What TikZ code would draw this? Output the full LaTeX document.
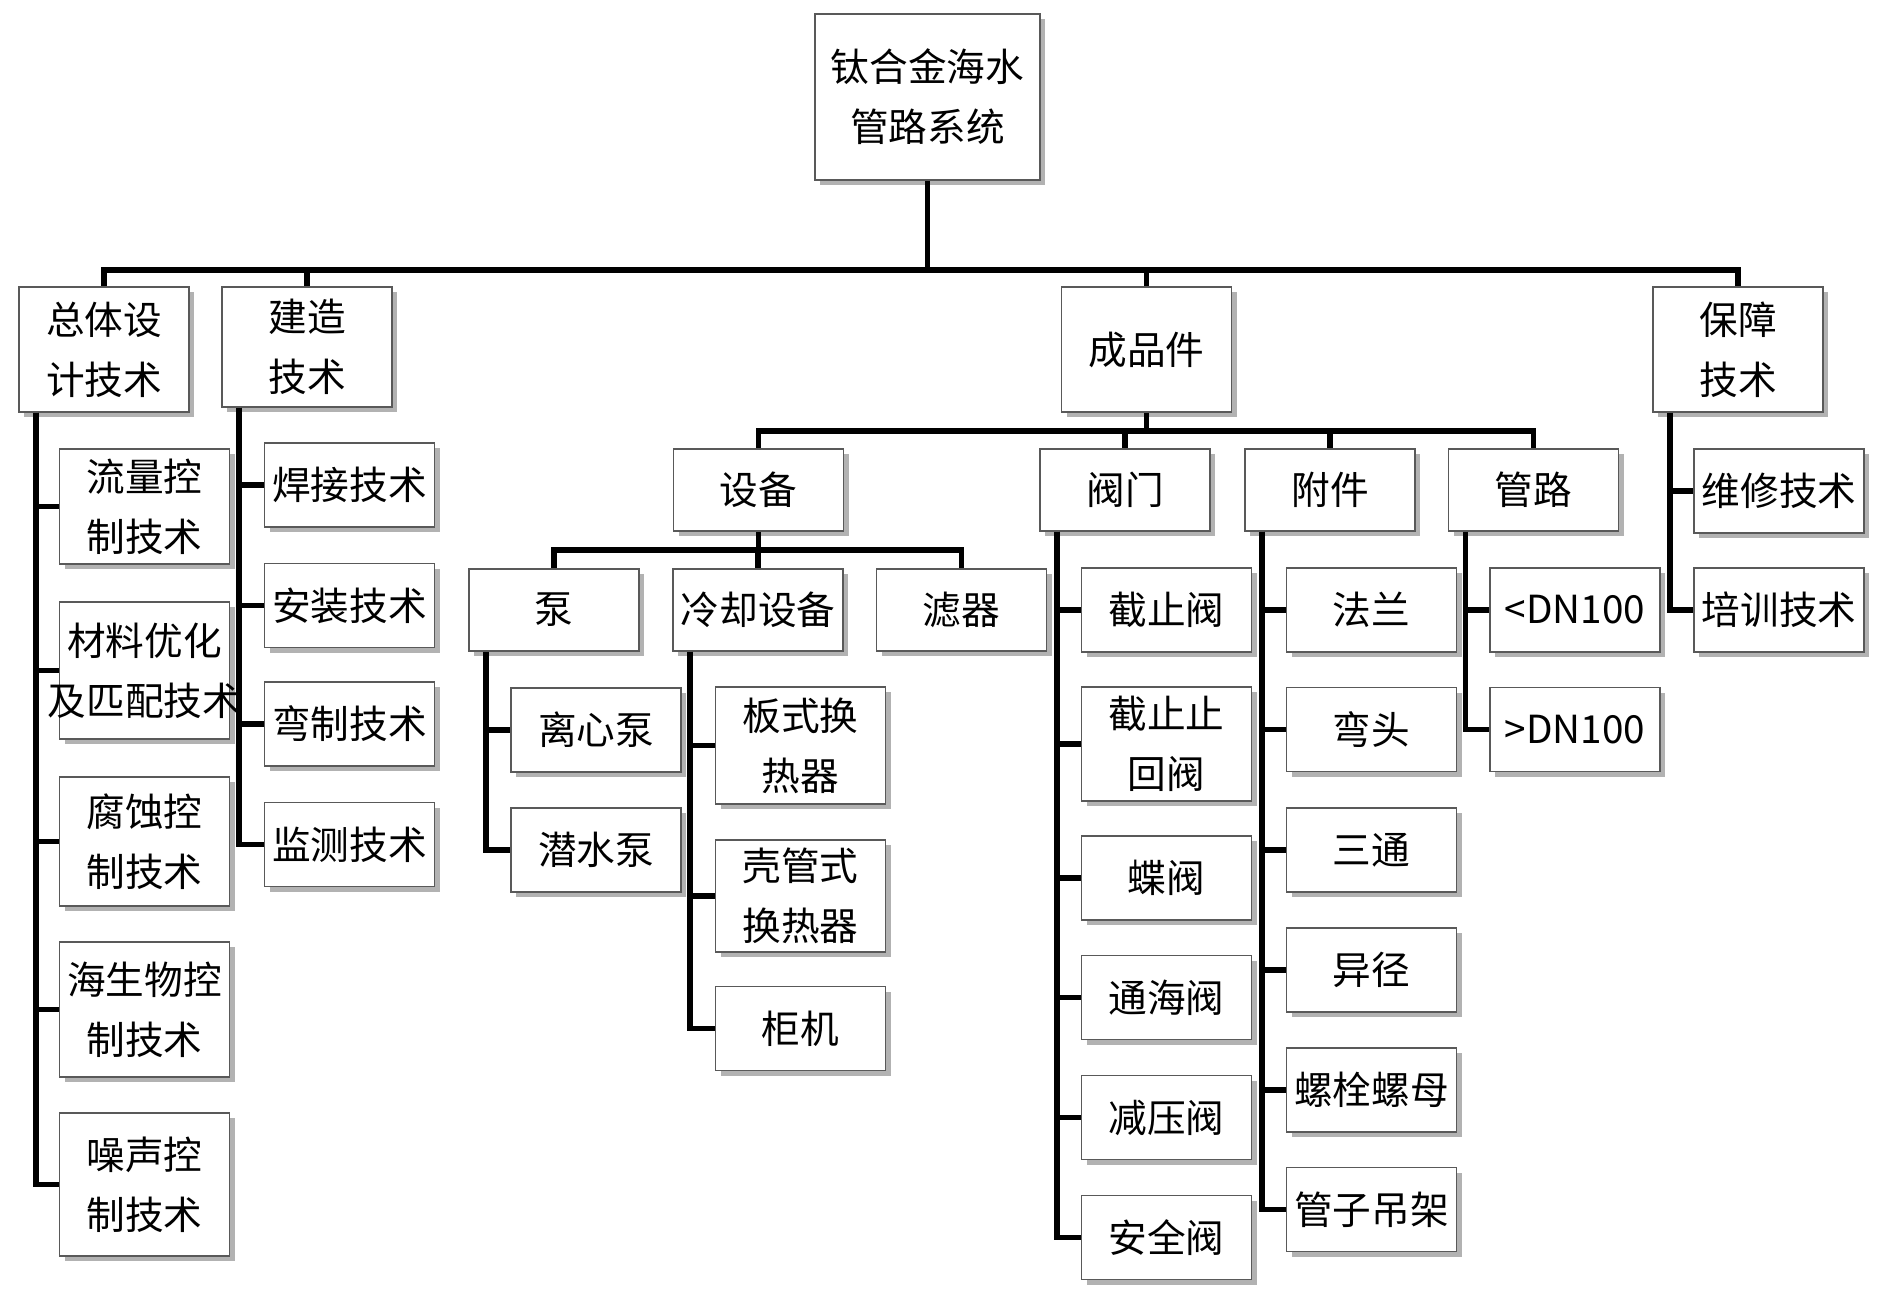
\documentclass[tikz,border=0pt]{standalone}
\usepackage{fontspec}
\newfontfamily\cjk{Noto Sans CJK SC}
\usetikzlibrary{calc,shadows}
\tikzset{%
	box/.style  = {draw=black!65, line width=0.5pt, fill=white, rectangle, minimum width=1.7cm, minimum height=0.84cm, inner sep=1pt, align=center, font=\cjk\fontsize{11}{17}\selectfont, drop shadow={shadow xshift=0.5mm, shadow yshift=-0.5mm, fill=black!50, opacity=0.6}},
	link/.style = {line width=1.6pt, black},
}

\begin{document}
\begin{tikzpicture}[x=0.1mm, y=-0.1mm]
	\fill[white] (0,0) rectangle (1890,1292);
	\useasboundingbox (0,0) rectangle (1890,1292);
	
	\node[box, minimum width=2.25cm, minimum height=1.66cm] (root) at (927.5,97) {钛合金海水\\管路系统};
	
	\node[box, minimum height=1.25cm] (zt) at (104,349.5) {总体设\\计技术};
	\node[box, minimum height=1.2cm] (jz) at (307,347) {建造\\技术};
	\node[box, minimum height=1.25cm] (cp) at (1146.5,349.5) {成品件};
	\node[box, minimum height=1.25cm] (bz) at (1738,349.5) {保障\\技术};
	
	\node[box, minimum height=0.82cm] (sb) at (758.5,490) {设备};
	\node[box, minimum height=0.82cm] (fm) at (1125,490) {阀门};
	\node[box, minimum height=0.82cm] (fj) at (1330,490) {附件};
	\node[box, minimum height=0.82cm] (gl) at (1533.5,490) {管路};
	
	\node[box, minimum height=0.82cm] (beng) at (554,610) {泵};
	\node[box, minimum height=0.82cm] (lq) at (758,610) {冷却设备};
	\node[box, minimum height=0.82cm] (lv) at (961.5,610) {滤器};
	
	\node[box, minimum height=1.15cm] (c1) at (144.5,506.5) {流量控\\制技术};
	\node[box, minimum height=1.37cm] (c2) at (144.5,670.5) {材料优化\\\makebox[0pt]{及匹配技术}};
	\node[box, minimum height=1.29cm] (c3) at (144.5,841.5) {腐蚀控\\制技术};
	\node[box, minimum height=1.35cm] (c4) at (144.5,1009.5) {海生物控\\制技术};
	\node[box, minimum height=1.43cm] (c5) at (144.5,1184.5) {噪声控\\制技术};
	
	\node[box] (hj) at (349.5,485) {焊接技术};
	\node[box] (az) at (349.5,605.5) {安装技术};
	\node[box] (wz) at (349.5,724) {弯制技术};
	\node[box] (jc) at (349.5,844.5) {监测技术};
	
	\node[box] (lx) at (596,730) {离心泵};
	\node[box] (qs) at (596,850) {潜水泵};
	
	\node[box, minimum height=1.17cm] (bs) at (800.5,745.5) {板式换\\热器};
	\node[box, minimum height=1.12cm] (kg) at (800.5,896) {壳管式\\换热器};
	\node[box] (gj) at (800.5,1028.5) {柜机};
	
	\node[box] (v1) at (1166.5,610) {截止阀};
	\node[box, minimum height=1.14cm] (v2) at (1166.5,744) {截止止\\回阀};
	\node[box] (v3) at (1166.5,878) {蝶阀};
	\node[box] (v4) at (1166.5,997.5) {通海阀};
	\node[box] (v5) at (1166.5,1117.5) {减压阀};
	\node[box] (v6) at (1166.5,1237.5) {安全阀};
	
	\node[box] (f1) at (1371.5,610) {法兰};
	\node[box] (f2) at (1371.5,729.5) {弯头};
	\node[box] (f3) at (1371.5,850) {三通};
	\node[box] (f4) at (1371.5,970) {异径};
	\node[box] (f5) at (1371.5,1090) {螺栓螺母};
	\node[box] (f6) at (1371.5,1209.5) {管子吊架};
	
	\node[box] (g1) at (1575,610) {<DN100};
	\node[box] (g2) at (1575,729.5) {>DN100};
	
	\node[box] (b1) at (1779,491) {维修技术};
	\node[box] (b2) at (1779,610) {培训技术};
	
	\coordinate (bus1) at (927.5,270);
	\coordinate (bus2) at (1146.5,431);
	\coordinate (bus3) at (758.5,550);
	\draw[link] (root.south) -- (bus1);
	\foreach \n in {zt,jz,cp,bz} \draw[link] (bus1) -| (\n.north);
	\draw[link] (cp.south) -- (bus2);
	\foreach \n in {sb,fm,fj,gl} \draw[link] (bus2) -| (\n.north);
	\draw[link] (sb.south) -- (bus3);
	\foreach \n in {beng,lq,lv} \draw[link] (bus3) -| (\n.north);
	
	\foreach \c in {c1,c2,c3,c4,c5} \draw[link] ($(zt.south west)+(18,0)$) |- (\c.west);
	\foreach \c in {hj,az,wz,jc} \draw[link] ($(jz.south west)+(18,0)$) |- (\c.west);
	\foreach \c in {lx,qs} \draw[link] ($(beng.south west)+(18,0)$) |- (\c.west);
	\foreach \c in {bs,kg,gj} \draw[link] ($(lq.south west)+(18,0)$) |- (\c.west);
	\foreach \c in {v1,v2,v3,v4,v5,v6} \draw[link] ($(fm.south west)+(18,0)$) |- (\c.west);
	\foreach \c in {f1,f2,f3,f4,f5,f6} \draw[link] ($(fj.south west)+(18,0)$) |- (\c.west);
	\foreach \c in {g1,g2} \draw[link] ($(gl.south west)+(18,0)$) |- (\c.west);
	\foreach \c in {b1,b2} \draw[link] ($(bz.south west)+(18,0)$) |- (\c.west);
\end{tikzpicture}
\end{document}
